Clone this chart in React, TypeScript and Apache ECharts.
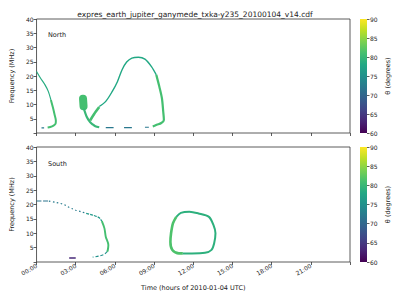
import React, { useEffect, useRef } from 'react';
import * as echarts from 'echarts';

// ---- data (time in hours of 2010-01-04, frequency in MHz, theta in degrees) ----
const titleText = 'expres_earth_jupiter_ganymede_txka-y235_20100104_v14.cdf';
const hourTicks = [0, 3, 6, 9, 12, 15, 18, 21];
const thetaTicks = [60, 65, 70, 75, 80, 85, 90];

// North hemisphere emission
const northLeftUpper = [[0, 21.6], [0.3, 19.3], [0.65, 16.9], [0.9, 14.6], [1.1, 11.6]];
const northLeftLower = [[1.1, 11.6], [1.25, 9.0], [1.38, 6.5], [1.48, 4.3], [1.45, 3.2], [1.3, 2.6], [1.05, 2.1], [0.85, 1.9]];
const northBlob = [[3.56, 12.0], [3.6, 9.4]];
const northStem = [[3.62, 8.6], [3.85, 5.6], [4.1, 3.8], [4.3, 3.0], [4.5, 2.4], [4.8, 2.0]];
const northArm = [[4.1, 4.4], [4.4, 6.6], [4.8, 9.1]];
const northArc = [[4.8, 9.3], [5.3, 11.1], [5.8, 14.6], [6.2, 18.1], [6.55, 22.2], [6.9, 24.9], [7.3, 26.3], [7.8, 26.6], [8.3, 25.9], [8.8, 23.3], [9.17, 20.4]];
const northArcRight = [[9.17, 20.4], [9.4, 16.3], [9.6, 12.2], [9.7, 7.5], [9.75, 4.6], [9.55, 3.5], [9.2, 2.9], [8.9, 2.3]];
const northFloor = [[0.38, 1.8], [0.58, 1.8], null, [5.3, 1.9], [5.9, 1.9], null, [6.7, 1.9], [7.3, 1.9], null, [8.3, 2.0], [8.6, 2.0]];

// South hemisphere emission
const southTopA = [[0, 21.2], [0.95, 21.2]];
const southTopB = [[0.95, 21.2], [1.5, 20.7], [1.8, 20.4], [2.1, 20.0], [2.4, 19.2], [2.7, 18.6], [3.0, 18.0], [3.4, 17.5], [3.8, 16.9]];
const southTopC = [[3.8, 16.9], [4.3, 16.3], [4.5, 16.0], [4.8, 15.4], [5.0, 14.2]];
const southRight = [[5.0, 14.2], [5.2, 11.7], [5.3, 8.8], [5.5, 5.9], [5.45, 4.0], [5.4, 3.6]];
const southTail = [[5.4, 3.6], [5.2, 2.7], [4.8, 2.1], [4.3, 1.7]];
const southLow = [[2.5, 1.4], [3.0, 1.4]];
const southLoopLeft = [[11.2, 3.0], [10.9, 3.0], [10.4, 4.2], [10.25, 7.0], [10.3, 10.0], [10.45, 13.5], [10.7, 15.7]];
const southLoopRest = [[10.7, 15.7], [11.05, 17.1], [11.7, 17.5], [12.4, 16.9], [13.2, 15.7], [13.55, 12.8], [13.7, 10.0], [13.6, 6.5], [13.4, 4.2], [12.9, 3.2], [11.9, 3.0], [11.2, 3.0]];

// segment -> panel, theta (value), drawing style
const segments = [
  { panel: 0, data: northLeftUpper, theta: 78.5, width: 1.2 },
  { panel: 0, data: northLeftLower, theta: 81, width: 2.0 },
  { panel: 0, data: northBlob, theta: 81, width: 8 },
  { panel: 0, data: northStem, theta: 80, width: 2.2 },
  { panel: 0, data: northArm, theta: 81, width: 2.6 },
  { panel: 0, data: northArc, theta: 78, width: 1.4 },
  { panel: 0, data: northArcRight, theta: 81, width: 2.2 },
  { panel: 0, data: northFloor, theta: 72, width: 1.1 },
  { panel: 1, data: southTopA, theta: 71.5, width: 1.1, dash: [5, 1.5] },
  { panel: 1, data: southTopB, theta: 72.5, width: 1.2, dash: [1.5, 2.5] },
  { panel: 1, data: southTopC, theta: 76, width: 1.2, dash: [3, 1] },
  { panel: 1, data: southRight, theta: 81, width: 1.9 },
  { panel: 1, data: southTail, theta: 75, width: 1.1, dash: [3, 2] },
  { panel: 1, data: southLow, theta: 63.5, width: 1.4 },
  { panel: 1, data: southLoopLeft, theta: 81.5, width: 2.6 },
  { panel: 1, data: southLoopRest, theta: 79, width: 2.0 },
];

const VIRIDIS = ['#440154', '#482475', '#414487', '#355f8d', '#2a788e', '#21918c', '#22a884', '#44bf70', '#7ad151', '#bddf26', '#fde725'];
function hexToRgb(h: string) {
  return [parseInt(h.slice(1, 3), 16), parseInt(h.slice(3, 5), 16), parseInt(h.slice(5, 7), 16)];
}
function viridis(theta: number) {
  let t = (theta - 60) / 30;
  t = Math.max(0, Math.min(1, t));
  const p = t * 10;
  const i = Math.min(9, Math.floor(p));
  const f = p - i;
  const a = hexToRgb(VIRIDIS[i]);
  const b = hexToRgb(VIRIDIS[i + 1]);
  const c = a.map((v, k) => Math.round(v + (b[k] - v) * f));
  return `rgb(${c[0]},${c[1]},${c[2]})`;
}

const FONT = 'DejaVu Sans';
const TXT = '#222';

export default function App() {
  const ref = useRef<HTMLDivElement>(null);
  useEffect(() => {
    if (!ref.current) return;
    const chart = echarts.init(ref.current, undefined, { renderer: 'svg' });

    const panelGrids = [
      { left: 31, top: 19, width: 319, height: 114 },
      { left: 31, top: 147, width: 319, height: 115 },
    ];
    const grids: any[] = panelGrids.map((g) => ({ ...g, show: true, borderColor: '#333', borderWidth: 0.8, backgroundColor: 'transparent' }));
    grids.push({ left: 360, top: 19, width: 7, height: 114 });
    grids.push({ left: 360, top: 147, width: 7, height: 115 });

    const pad = (v: number) => (v < 10 ? '0' + v : '' + v);
    const xAxes: any[] = [0, 1].map((i) => ({
      type: 'value', gridIndex: i, min: 0, max: 24, interval: 3,
      axisLine: { show: false },
      axisTick: { show: true, length: 3, lineStyle: { color: '#333', width: 0.8 } },
      splitLine: { show: false },
      axisLabel: {
        show: i === 1, rotate: 30, fontSize: 6, color: TXT, fontFamily: FONT, margin: 3,
        formatter: (v: number) => (v >= 24 || !hourTicks.includes(v) ? '' : pad(v) + ':00'),
      },
      name: i === 1 ? 'Time (hours of 2010-01-04 UTC)' : '',
      nameLocation: 'middle', nameGap: 22,
      nameTextStyle: { fontSize: 6.5, color: TXT, fontFamily: FONT },
    }));
    xAxes.push({ type: 'category', gridIndex: 2, data: [''], show: false });
    xAxes.push({ type: 'category', gridIndex: 3, data: [''], show: false });

    const yAxes: any[] = [0, 1].map((i) => ({
      type: 'value', gridIndex: i, min: 0, max: 40, interval: 5,
      axisLine: { show: false },
      axisTick: { show: true, length: 3, lineStyle: { color: '#333', width: 0.8 } },
      splitLine: { show: false },
      axisLabel: { fontSize: 6, color: TXT, fontFamily: FONT, margin: 3, formatter: (v: number) => (v === 0 ? '' : String(v)) },
      name: 'Frequency (MHz)', nameLocation: 'middle', nameGap: 16,
      nameTextStyle: { fontSize: 6.5, color: TXT, fontFamily: FONT },
    }));
    [2, 3].forEach((i) => {
      yAxes.push({
        type: 'value', gridIndex: i, min: thetaTicks[0], max: thetaTicks[thetaTicks.length - 1], interval: 5,
        startValue: thetaTicks[0], position: 'right',
        axisLine: { show: false },
        axisTick: { show: true, length: 2.5, lineStyle: { color: '#333', width: 0.8 } },
        splitLine: { show: false },
        axisLabel: { fontSize: 6, color: TXT, fontFamily: FONT, margin: 3 },
        name: 'θ (degrees)', nameLocation: 'middle', nameGap: 17, nameRotate: 90,
        nameTextStyle: { fontSize: 6.5, color: TXT, fontFamily: FONT },
      });
    });

    const series: any[] = segments.map((s) => ({
      type: 'line', xAxisIndex: s.panel, yAxisIndex: s.panel,
      data: s.data.map((p) => (p === null ? '-' : p)),
      symbol: 'none', showSymbol: false, smooth: 0.3, connectNulls: false, silent: true,
      lineStyle: { color: viridis(s.theta), width: s.width, type: (s as any).dash || 'solid', cap: s.width > 5 ? 'round' : 'butt' },
    }));
    // ascending offsets: top (offset 0) is yellow, bottom (offset 1) is purple
    const gradStops = VIRIDIS.slice().reverse().map((c, k) => ({ offset: k / 10, color: c }));
    [2, 3].forEach((i) => {
      series.push({
        type: 'bar', xAxisIndex: i, yAxisIndex: i, data: [thetaTicks[thetaTicks.length - 1]],
        barWidth: '100%', silent: true, clip: true,
        itemStyle: { color: new echarts.graphic.LinearGradient(0, 0, 0, 1, gradStops) },
      });
    });

    chart.setOption({
      animation: false,
      backgroundColor: '#fff',
      textStyle: { fontFamily: FONT },
      title: [
        { text: titleText, left: 190, top: 5, textAlign: 'center', textStyle: { fontSize: 7.5, fontWeight: 'normal', color: TXT, fontFamily: FONT } },
        { text: 'North', left: 43, top: 26, textStyle: { fontSize: 6.5, fontWeight: 'normal', color: TXT, fontFamily: FONT } },
        { text: 'South', left: 43, top: 155, textStyle: { fontSize: 6.5, fontWeight: 'normal', color: TXT, fontFamily: FONT } },
      ],
      grid: grids,
      xAxis: xAxes,
      yAxis: yAxes,
      series,
    });
    return () => chart.dispose();
  }, []);
  return <div ref={ref} style={{ width: 400, height: 300, position: 'absolute', left: 0, top: 0 }} />;
}
